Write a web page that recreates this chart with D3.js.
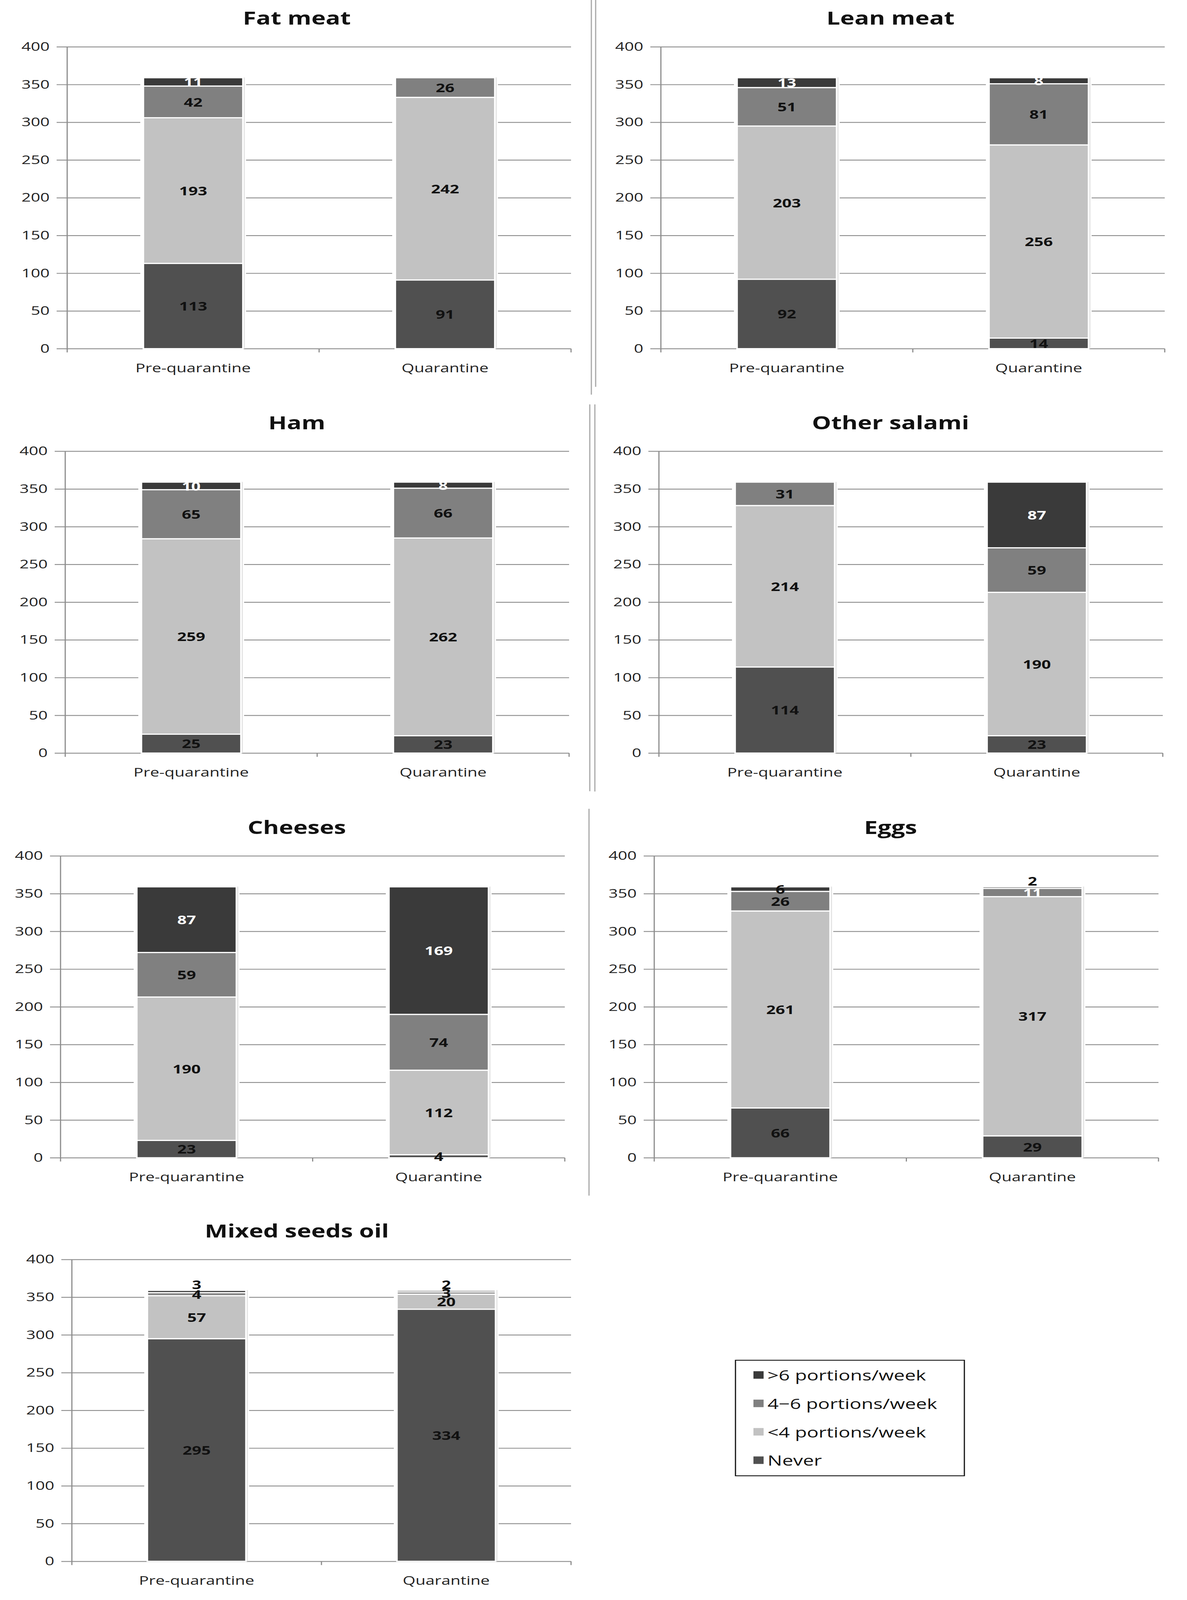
<!DOCTYPE html>
<html>
<head>
<meta charset="utf-8">
<script src="https://cdn.jsdelivr.net/npm/d3@7"></script>
<style>
  html, body { margin: 0; padding: 0; background: #fff; overflow: hidden; }
  svg { display: block; }
  text { font-family: "Open Sans", "Liberation Sans", sans-serif; }
</style>
</head>
<body>
<script>
// chart values
const foods = ["Fat meat", "Lean meat", "Ham", "Other salami", "Cheeses", "Eggs", "Mixed seeds oil"];
const categories = ["Pre-quarantine", "Quarantine"];
const seriesKeys = ["never", "lt4", "f46", "gt6"];
const seriesLabels = ["Never", "<4 portions/week", "4\u22126 portions/week", ">6 portions/week"];
// one [pre, quarantine] pair per food
const never     = [[113, 91], [92, 14], [25, 23], [114, 23], [23, 4], [66, 29], [295, 334]];
const lessThan4 = [[193, 242], [203, 256], [259, 262], [214, 190], [190, 112], [261, 317], [57, 20]];
const fourToSix = [[42, 26], [51, 81], [65, 66], [31, 59], [59, 74], [26, 11], [4, 3]];
const moreThan6 = [[11, 0], [13, 8], [10, 8], [0, 87], [87, 169], [6, 2], [3, 2]];
const yTicks = [0, 50, 100, 150, 200, 250, 300, 350, 400];

const colors = {never: "#505050", lt4: "#c2c2c2", f46: "#808080", gt6: "#3a3a3a"};

// layout of the 2-column grid
const fullW = 3039, fullH = 5539;
const colW = 1520, rowH = 1400;
const rowLeft = [172, 167, 155, 184];
const rowTop = [162, 162, 163, 160];
const rowWidth = [1290, 1290, 1291, 1278];
const plotH = 1045;

// the browser caps the window height, so fit the whole figure in what we get
const viewH = Math.min(fullH, window.innerHeight || fullH);
const svg = d3.select("body").append("svg")
    .attr("width", fullW)
    .attr("height", viewH)
    .attr("viewBox", `0 0 ${fullW} ${fullH}`)
    .attr("preserveAspectRatio", "none");

// thin separators between the small charts
const separators = [
    [1514, 0, 1366], [1525, 0, 1339],
    [1510, 1400, 2739], [1523, 1400, 2740],
    [1508, 2800, 4139]
];
svg.selectAll(".sep").data(separators).enter().append("line")
    .attr("x1", d => d[0]).attr("x2", d => d[0])
    .attr("y1", d => d[1]).attr("y2", d => d[2])
    .attr("stroke", "#a8a8a8").attr("stroke-width", 3);

foods.forEach((food, i) => drawPanel(food, i));
drawLegend();

function drawPanel(food, i){
    const col = i % 2, row = Math.floor(i / 2);
    const ox = col * colW, oy = row * rowH;
    const W = rowWidth[row], H = plotH;

    // title
    svg.append("text")
        .attr("x", ox + 760)
        .attr("y", oy + rowTop[row] - 100)
        .attr("text-anchor", "middle")
        .attr("dominant-baseline", "central")
        .attr("font-size", 62)
        .attr("font-weight", "bold")
        .attr("fill", "#111")
        .text(food);

    const g = svg.append("g")
        .attr("transform", `translate(${ox + rowLeft[row]},${oy + rowTop[row]})`);

    const x = d3.scaleBand()
        .domain(categories)
        .range([0, W])
        .paddingInner(0.605)
        .paddingOuter(0.3025);
    const y = d3.scaleLinear()
        .domain([0, 400])
        .range([H, 0]);

    // gridlines + y labels
    const yAxis = g.append("g")
        .attr("transform", "translate(-27,0)")
        .call(d3.axisLeft(y).tickValues(yTicks).tickSize(-(W + 27)).tickPadding(18));
    yAxis.select(".domain").remove();
    yAxis.selectAll("line").attr("stroke", "#8c8c8c").attr("stroke-width", 3);
    yAxis.selectAll("text")
        .attr("font-size", 42)
        .attr("fill", "#222")
        .style("font-family", "'Open Sans', sans-serif");

    // y axis line
    g.append("line")
        .attr("x1", 0).attr("x2", 0)
        .attr("y1", 0).attr("y2", H)
        .attr("stroke", "#8c8c8c").attr("stroke-width", 3);

    // category boundary ticks
    g.selectAll(".btick").data([0, 1, 2]).enter().append("line")
        .attr("x1", d => d * x.step()).attr("x2", d => d * x.step())
        .attr("y1", H).attr("y2", H + 13)
        .attr("stroke", "#8c8c8c").attr("stroke-width", 3);

    // category labels
    const xAxis = g.append("g")
        .attr("transform", `translate(0,${H + 52})`)
        .call(d3.axisBottom(x).tickSize(0).tickPadding(0));
    xAxis.select(".domain").remove();
    xAxis.selectAll("text")
        .attr("font-size", 42)
        .attr("fill", "#222")
        .style("font-family", "'Open Sans', sans-serif");

    // stacked data for this food
    const rows = categories.map((c, j) => ({
        cat: c,
        never: never[i][j],
        lt4: lessThan4[i][j],
        f46: fourToSix[i][j],
        gt6: moreThan6[i][j]
    }));
    const stacked = d3.stack().keys(seriesKeys)(rows);
    const totals = rows.map(r => d3.sum(seriesKeys, k => r[k]));

    // halo behind bars so gridlines stop short
    g.selectAll(".halo").data(rows).enter().append("rect")
        .attr("x", d => x(d.cat) - 8)
        .attr("y", (d, j) => y(totals[j]) - 4)
        .attr("width", x.bandwidth() + 16)
        .attr("height", (d, j) => y(0) - y(totals[j]) + 2)
        .attr("fill", "#fff");
    g.selectAll(".shadow").data(rows).enter().append("rect")
        .attr("x", d => x(d.cat) + 5)
        .attr("y", (d, j) => y(totals[j]) - 1)
        .attr("width", x.bandwidth())
        .attr("height", (d, j) => y(0) - y(totals[j]) + 1)
        .attr("fill", "#e4e4e4");

    stacked.forEach(layer => {
        const key = layer.key;
        g.selectAll(`.seg-${key}`).data(layer.filter(d => d[1] > d[0])).enter().append("rect")
            .attr("x", d => x(d.data.cat))
            .attr("y", d => y(d[1]))
            .attr("width", x.bandwidth())
            .attr("height", d => y(d[0]) - y(d[1]))
            .attr("fill", colors[key])
            .attr("stroke", "#fff")
            .attr("stroke-width", 4);
    });

    // data labels
    stacked.forEach(layer => {
        const key = layer.key;
        g.selectAll(`.lab-${key}`).data(layer.filter(d => d[1] > d[0])).enter().append("text")
            .attr("x", d => x(d.data.cat) + x.bandwidth() / 2)
            .attr("y", d => {
                const v = d[1] - d[0];
                // tiny top segments get their label lifted above the bar
                if (key === "gt6" && v <= 3) return y(d[1] + 8);
                return y((d[0] + d[1]) / 2);
            })
            .attr("text-anchor", "middle")
            .attr("dominant-baseline", "central")
            .attr("font-size", 42)
            .attr("font-weight", "bold")
            .attr("fill", d => {
                const v = d[1] - d[0];
                if (v >= 8 && (key === "gt6" || (key === "f46" && v < 15))) return "#fff";
                return "#111";
            })
            .text(d => d[1] - d[0]);
    });
}

function drawLegend(){
    const lg = svg.append("g").attr("transform", "translate(1883,4709)");
    lg.append("rect")
        .attr("width", 586).attr("height", 400)
        .attr("fill", "#fff")
        .attr("stroke", "#111").attr("stroke-width", 3);
    const order = [3, 2, 1, 0];
    const rowY = d3.scaleLinear().domain([0, 3]).range([51, 346]);
    const items = lg.selectAll(".item").data(order).enter().append("g")
        .attr("transform", (d, k) => `translate(46,${rowY(k)})`);
    items.append("rect")
        .attr("y", -13)
        .attr("width", 26).attr("height", 26)
        .attr("fill", d => colors[seriesKeys[d]]);
    items.append("text")
        .attr("x", 36)
        .attr("dominant-baseline", "central")
        .attr("font-size", 50)
        .attr("fill", "#111")
        .text(d => seriesLabels[d]);
}
</script>
</body>
</html>
